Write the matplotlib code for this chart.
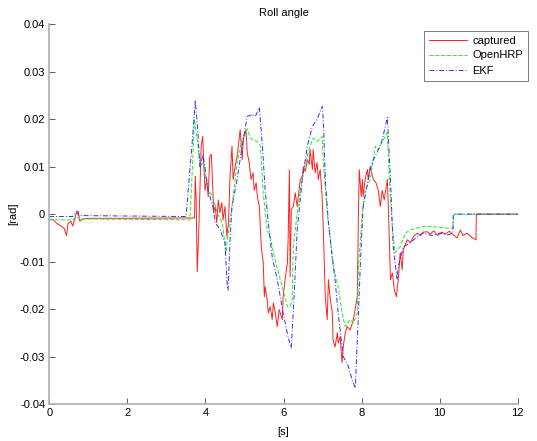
import matplotlib
matplotlib.use('Agg')
import matplotlib.pyplot as plt

plt.rcParams['font.family'] = ['Liberation Sans', 'DejaVu Sans']

# captured roll angle
t_cap = [0.00, 0.10, 0.20, 0.30, 0.38, 0.44, 0.48, 0.55, 0.60, 0.66, 0.70, 0.74, 0.78, 0.85, 1.00,
         3.72, 3.74, 3.76, 3.79, 3.83, 3.89, 3.93, 3.96, 3.99, 4.03, 4.07, 4.11, 4.15, 4.18, 4.21,
         4.25, 4.29, 4.33, 4.37, 4.42, 4.45, 4.50, 4.55, 4.59, 4.63, 4.68, 4.71, 4.76, 4.81, 4.84,
         4.89, 4.94, 4.97, 5.04, 5.07, 5.12, 5.17, 5.22, 5.25, 5.30, 5.33, 5.38, 5.43, 5.48, 5.51,
         5.53, 5.58, 5.61, 5.66, 5.71, 5.74, 5.79, 5.84, 5.89, 5.97, 5.99, 6.04, 6.10, 6.12, 6.15,
         6.17, 6.20, 6.25, 6.30, 6.35, 6.38, 6.43, 6.48, 6.51, 6.56, 6.61, 6.66, 6.68, 6.74, 6.76,
         6.81, 6.86, 6.89, 6.94, 6.99, 7.02, 7.07, 7.12, 7.15, 7.20, 7.25, 7.27, 7.32, 7.38, 7.40,
         7.45, 7.50, 7.53, 7.58, 7.63, 7.71, 7.79, 7.89, 7.92, 7.94, 7.99, 8.02, 8.04, 8.09, 8.15,
         8.17, 8.22, 8.30, 8.37, 8.43, 8.48, 8.53, 8.58, 8.66, 8.69, 8.74, 8.79, 8.84, 8.89, 8.94,
         8.99, 9.04, 9.07, 9.17, 9.25, 9.33, 9.43, 9.50, 9.58, 9.68, 9.76, 9.85, 9.95, 10.05, 10.15,
         10.25, 10.35, 10.45, 10.53, 10.60, 10.70, 10.84, 10.93, 10.94, 12.00]
v_cap = [-0.0010, -0.0012, -0.0020, -0.0025, -0.0030, -0.0045, -0.0020, -0.0015, -0.0025, -0.0008,
         0.0005, 0.0006, -0.0015, -0.0010, -0.0009,
         -0.0008, 0.0080, 0.0037, -0.0121, -0.0033, 0.0143, 0.0164, 0.0100, 0.0050, 0.0073, 0.0037,
         0.0121, 0.0126, 0.0073, 0.0003, 0.0016, -0.0018, 0.0030, 0.0003, 0.0024, -0.0012, 0.0016,
         -0.0047, -0.0018, 0.0080, 0.0143, 0.0073, 0.0100, 0.0121, 0.0143, 0.0178, 0.0115, 0.0157,
         0.0178, 0.0130, 0.0109, 0.0073, 0.0087, 0.0050, 0.0066, 0.0037, 0.0016, -0.0069, -0.0102,
         -0.0174, -0.0153, -0.0180, -0.0208, -0.0195, -0.0222, -0.0187, -0.0208, -0.0237, -0.0201,
         -0.0222, -0.0174, -0.0138, -0.0102, -0.0047, 0.0094, -0.0132, 0.0010, 0.0016, 0.0045,
         0.0016, 0.0037, 0.0073, 0.0080, 0.0100, 0.0090, 0.0115, 0.0105, 0.0136, 0.0094, 0.0136,
         0.0087, 0.0109, 0.0073, 0.0094, 0.0037, -0.0033, -0.0174, -0.0222, -0.0138, -0.0180,
         -0.0208, -0.0265, -0.0280, -0.0250, -0.0272, -0.0258, -0.0313, -0.0280, -0.0250, -0.0237,
         -0.0244, -0.0222, -0.0174, 0.0003, 0.0094, 0.0037, 0.0073, 0.0037, 0.0073, 0.0094, 0.0073,
         0.0100, 0.0073, 0.0066, 0.0050, 0.0016, 0.0050, 0.0030, 0.0073, 0.0003, -0.0138, -0.0124,
         -0.0160, -0.0174, -0.0138, -0.0081, -0.0117, -0.0075, -0.0054, -0.0060, -0.0047, -0.0040,
         -0.0045, -0.0038, -0.0037, -0.0042, -0.0035, -0.0045, -0.0038, -0.0042, -0.0036, -0.0044,
         -0.0050, -0.0033, -0.0045, -0.0040, -0.0050, -0.0054, 0.0000, 0.0000]

# OpenHRP simulation
t_hrp = [0.00, 0.60, 0.70, 0.80, 3.60, 3.64, 3.72, 3.80, 3.86, 3.94, 4.07, 4.19, 4.30, 4.43, 4.53,
         4.56, 4.68, 4.81, 4.94, 5.07, 5.15, 5.33, 5.41, 5.48, 5.58, 5.66, 5.74, 5.87, 5.99, 6.10,
         6.17, 6.22, 6.25, 6.35, 6.43, 6.56, 6.68, 6.76, 6.86, 6.99, 7.02, 7.12, 7.20, 7.27, 7.40,
         7.50, 7.58, 7.71, 7.79, 7.89, 7.92, 8.02, 8.09, 8.22, 8.35, 8.43, 8.56, 8.66, 8.71, 8.79,
         8.86, 8.99, 9.12, 9.25, 9.43, 9.58, 9.80, 10.00, 10.34, 10.35, 12.00]
v_hrp = [-0.0012, -0.0012, -0.0005, -0.0010, -0.0012, 0.0050, 0.0200, 0.0150, 0.0100, 0.0109,
         0.0050, 0.0037, 0.0003, -0.0018, -0.0080, -0.0054, 0.0016, 0.0109, 0.0157, 0.0180, 0.0160,
         0.0153, 0.0143, 0.0045, -0.0033, -0.0047, -0.0081, -0.0124, -0.0160, -0.0195, -0.0195,
         -0.0180, -0.0069, 0.0003, 0.0050, 0.0109, 0.0143, 0.0160, 0.0153, 0.0164, 0.0109, 0.0003,
         -0.0054, -0.0110, -0.0153, -0.0208, -0.0237, -0.0222, -0.0230, -0.0208, -0.0110, 0.0003,
         0.0050, 0.0073, 0.0143, 0.0136, 0.0157, 0.0172, 0.0073, -0.0033, -0.0081, -0.0069, -0.0040,
         -0.0033, -0.0029, -0.0026, -0.0026, -0.0028, -0.0030, 0.0000, 0.0000]

# EKF estimate
t_ekf = [0.00, 0.60, 0.70, 0.75, 3.50, 3.53, 3.58, 3.66, 3.74, 3.80, 3.86, 3.94, 4.07, 4.19, 4.25,
         4.38, 4.50, 4.56, 4.58, 4.63, 4.68, 4.81, 4.94, 5.07, 5.20, 5.28, 5.38, 5.46, 5.53, 5.61,
         5.71, 5.84, 5.99, 6.12, 6.20, 6.27, 6.35, 6.48, 6.61, 6.74, 6.86, 6.99, 7.02, 7.07, 7.15,
         7.25, 7.32, 7.40, 7.53, 7.66, 7.76, 7.84, 7.92, 7.97, 8.04, 8.17, 8.27, 8.40, 8.53, 8.66,
         8.74, 8.81, 8.91, 8.94, 9.07, 9.25, 9.43, 9.58, 9.80, 10.00, 10.20, 10.34, 10.35, 12.00]
v_ekf = [-0.0005, -0.0005, 0.0005, -0.0003, -0.0005, 0.0020, 0.0073, 0.0150, 0.0240, 0.0180,
         0.0100, 0.0126, 0.0050, 0.0016, -0.0018, -0.0033, -0.0060, -0.0153, -0.0160, -0.0054,
         0.0016, 0.0073, 0.0143, 0.0206, 0.0210, 0.0206, 0.0225, 0.0143, 0.0050, -0.0018, -0.0090,
         -0.0138, -0.0208, -0.0260, -0.0282, -0.0174, -0.0033, 0.0073, 0.0143, 0.0185, 0.0200,
         0.0227, 0.0200, 0.0073, -0.0018, -0.0090, -0.0138, -0.0208, -0.0300, -0.0320, -0.0350,
         -0.0366, -0.0208, -0.0102, 0.0016, 0.0073, 0.0109, 0.0130, 0.0157, 0.0204, 0.0073, -0.0069,
         -0.0138, -0.0110, -0.0069, -0.0060, -0.0047, -0.0040, -0.0045, -0.0040, -0.0044, -0.0040,
         0.0000, 0.0000]

fig = plt.figure(figsize=(5.37, 4.41), dpi=100)
ax = fig.add_axes([0.0918, 0.0839, 0.8723, 0.8610])

l_cap, = ax.plot(t_cap, v_cap, color='#ff2020', lw=0.7, label='captured')
l_hrp, = ax.plot(t_hrp, v_hrp, color='#20ee20', lw=0.7, ls=(0, (4, 2)), label='OpenHRP')
l_ekf, = ax.plot(t_ekf, v_ekf, color='#3030ff', lw=0.7, ls=(0, (5, 2, 1, 2)), label='EKF')

ax.set_xlim(0, 12)
ax.set_ylim(-0.04, 0.04)
ax.set_xticks(range(0, 13, 2))
ax.set_yticks([-0.04, -0.03, -0.02, -0.01, 0, 0.01, 0.02, 0.03, 0.04])
ax.set_yticklabels(['-0.04', '-0.03', '-0.02', '-0.01', '0', '0.01', '0.02', '0.03', '0.04'])

for side in ['top', 'right']:
    ax.spines[side].set_visible(False)
for side in ['left', 'bottom']:
    ax.spines[side].set_color('#b4b4b4')
    ax.spines[side].set_linewidth(1.3)
ax.tick_params(direction='in', length=4, width=0.6, color='#404040',
               labelsize=8, pad=3)

ax.set_title('Roll angle', fontsize=8, pad=6)
ax.set_xlabel('[s]', fontsize=8, labelpad=6)
ax.set_ylabel('[rad]', fontsize=8, labelpad=1)

leg = ax.legend(handles=[l_cap, l_hrp, l_ekf], loc='upper right',
                bbox_to_anchor=(528 / 537, 1 - 30.5 / 441), bbox_transform=fig.transFigure,
                fontsize=8, frameon=True, fancybox=False, handlelength=3.4,
                handletextpad=0.5, borderpad=0.45, labelspacing=0.45, borderaxespad=0)
leg.get_frame().set_edgecolor('#404040')
leg.get_frame().set_linewidth(0.6)

fig.savefig('out.png', dpi=100)
